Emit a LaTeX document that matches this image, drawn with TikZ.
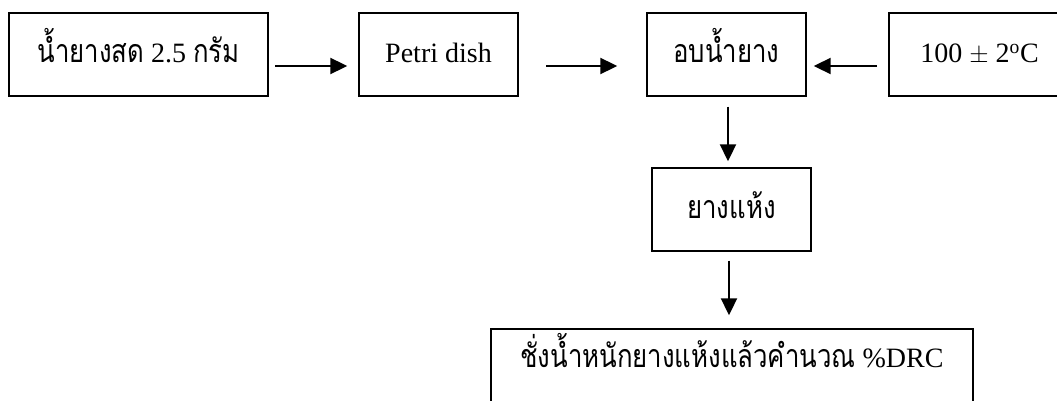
\documentclass[tikz,border=0pt]{standalone}
\usepackage{fontspec}
\setmainfont{Liberation Serif}
\newfontfamily\thaifont[Script=Thai,Scale=1.15,FakeStretch=0.8]{Loma}
\newcommand{\thai}[1]{{\thaifont #1}}
\usetikzlibrary{arrows.meta}
\tikzset{
  boxtext/.style={font=\fontsize{28}{34}\selectfont, text height=21pt, text depth=4pt},
  box/.style={boxtext, draw=black, line width=1.4pt, rectangle, minimum height=83pt,
              inner sep=0pt},
  flow/.style={line width=2pt, -{Triangle[length=17pt,width=16pt]}}
}
\begin{document}
\begin{tikzpicture}[x=1pt, y=-1pt]
  \useasboundingbox (0,0) rectangle (1057,401);
  \clip (0,0) rectangle (1057,401);
  % top row
  \node[box, minimum width=259pt] (latex) at (138.5,54.5)
    {\thai{น้ำยางสด} 2.5 \thai{กรัม}};
  \node[box, minimum width=159pt] (dish) at (438.5,54.5) {Petri dish};
  \node[box, minimum width=159pt] (oven) at (726.5,54.5) {\thai{อบน้ำยาง}};
  \node[box, minimum width=181pt] (temp) at (979.5,54.5)
    {100 $\pm$ 2\textsuperscript{o}C};
  % dried rubber
  \node[box, minimum width=159pt] (dry) at (731.5,209.5) {\thai{ยางแห้ง}};
  % weighing step, running past the lower edge
  \node[box, minimum width=482pt,
        label={[boxtext, inner sep=0pt, yshift=12pt]center:\thai{ชั่งน้ำหนักยางแห้งแล้วคำนวณ} \%DRC}]
        (weigh) at (732,370.5) {};
  % connectors
  \coordinate (a1) at (275,66);
  \coordinate (a2) at (546,66);
  \coordinate (a3) at (877,66);
  \draw[flow] (a1) -- ([xshift=-11pt]a1 -| dish.west);
  \draw[flow] (a2) -- ([xshift=-29pt]a2 -| oven.west);
  \draw[flow] (a3) -- ([xshift=7pt]a3 -| oven.east);
  \draw[flow] ([yshift=-10pt]oven.south -| 728,0) -- ([yshift=6pt]dry.north -| 728,0);
  \draw[flow] ([yshift=-9pt]dry.south -| 729,0) -- ([yshift=13pt]weigh.north -| 729,0);
\end{tikzpicture}
\end{document}
